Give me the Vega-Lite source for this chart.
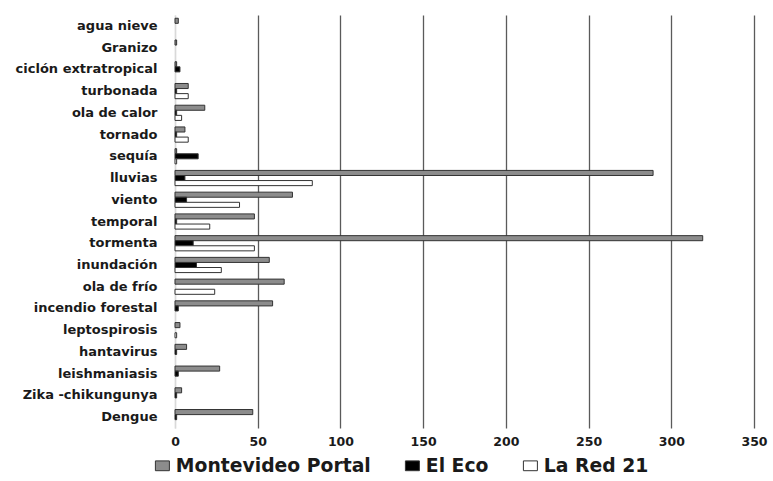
{
  "$schema": "https://vega.github.io/schema/vega-lite/v6.json",
  "autosize": {"type": "none"},
  "width": 579,
  "height": 413,
  "padding": {"left": 175, "top": 15, "right": 19, "bottom": 53},
  "background": "white",
  "config": {"view": {"stroke": null}, "font": "DejaVu Sans"},
  "data": {"values": [
    {"cat": "agua nieve", "medio": "Montevideo Portal", "n": 2},
    {"cat": "agua nieve", "medio": "El Eco", "n": 0},
    {"cat": "agua nieve", "medio": "La Red 21", "n": 0},
    {"cat": "Granizo", "medio": "Montevideo Portal", "n": 1},
    {"cat": "Granizo", "medio": "El Eco", "n": 0},
    {"cat": "Granizo", "medio": "La Red 21", "n": 0},
    {"cat": "ciclón extratropical", "medio": "Montevideo Portal", "n": 1},
    {"cat": "ciclón extratropical", "medio": "El Eco", "n": 3},
    {"cat": "ciclón extratropical", "medio": "La Red 21", "n": 0},
    {"cat": "turbonada", "medio": "Montevideo Portal", "n": 8},
    {"cat": "turbonada", "medio": "El Eco", "n": 1},
    {"cat": "turbonada", "medio": "La Red 21", "n": 8},
    {"cat": "ola de calor", "medio": "Montevideo Portal", "n": 18},
    {"cat": "ola de calor", "medio": "El Eco", "n": 1},
    {"cat": "ola de calor", "medio": "La Red 21", "n": 4},
    {"cat": "tornado", "medio": "Montevideo Portal", "n": 6},
    {"cat": "tornado", "medio": "El Eco", "n": 1},
    {"cat": "tornado", "medio": "La Red 21", "n": 8},
    {"cat": "sequía", "medio": "Montevideo Portal", "n": 1},
    {"cat": "sequía", "medio": "El Eco", "n": 14},
    {"cat": "sequía", "medio": "La Red 21", "n": 1},
    {"cat": "lluvias", "medio": "Montevideo Portal", "n": 289},
    {"cat": "lluvias", "medio": "El Eco", "n": 6},
    {"cat": "lluvias", "medio": "La Red 21", "n": 83},
    {"cat": "viento", "medio": "Montevideo Portal", "n": 71},
    {"cat": "viento", "medio": "El Eco", "n": 7},
    {"cat": "viento", "medio": "La Red 21", "n": 39},
    {"cat": "temporal", "medio": "Montevideo Portal", "n": 48},
    {"cat": "temporal", "medio": "El Eco", "n": 1},
    {"cat": "temporal", "medio": "La Red 21", "n": 21},
    {"cat": "tormenta", "medio": "Montevideo Portal", "n": 319},
    {"cat": "tormenta", "medio": "El Eco", "n": 11},
    {"cat": "tormenta", "medio": "La Red 21", "n": 48},
    {"cat": "inundación", "medio": "Montevideo Portal", "n": 57},
    {"cat": "inundación", "medio": "El Eco", "n": 13},
    {"cat": "inundación", "medio": "La Red 21", "n": 28},
    {"cat": "ola de frío", "medio": "Montevideo Portal", "n": 66},
    {"cat": "ola de frío", "medio": "El Eco", "n": 0},
    {"cat": "ola de frío", "medio": "La Red 21", "n": 24},
    {"cat": "incendio forestal", "medio": "Montevideo Portal", "n": 59},
    {"cat": "incendio forestal", "medio": "El Eco", "n": 2},
    {"cat": "incendio forestal", "medio": "La Red 21", "n": 0},
    {"cat": "leptospirosis", "medio": "Montevideo Portal", "n": 3},
    {"cat": "leptospirosis", "medio": "El Eco", "n": 0},
    {"cat": "leptospirosis", "medio": "La Red 21", "n": 1},
    {"cat": "hantavirus", "medio": "Montevideo Portal", "n": 7},
    {"cat": "hantavirus", "medio": "El Eco", "n": 1},
    {"cat": "hantavirus", "medio": "La Red 21", "n": 0},
    {"cat": "leishmaniasis", "medio": "Montevideo Portal", "n": 27},
    {"cat": "leishmaniasis", "medio": "El Eco", "n": 2},
    {"cat": "leishmaniasis", "medio": "La Red 21", "n": 0},
    {"cat": "Zika -chikungunya", "medio": "Montevideo Portal", "n": 4},
    {"cat": "Zika -chikungunya", "medio": "El Eco", "n": 1},
    {"cat": "Zika -chikungunya", "medio": "La Red 21", "n": 0},
    {"cat": "Dengue", "medio": "Montevideo Portal", "n": 47},
    {"cat": "Dengue", "medio": "El Eco", "n": 1},
    {"cat": "Dengue", "medio": "La Red 21", "n": 0}
  ]},
  "mark": {"type": "bar", "stroke": "#333333", "strokeWidth": 1},
  "encoding": {
    "y": {
      "field": "cat", "type": "nominal", "title": null,
      "sort": ["agua nieve", "Granizo", "ciclón extratropical", "turbonada", "ola de calor", "tornado", "sequía", "lluvias", "viento", "temporal", "tormenta", "inundación", "ola de frío", "incendio forestal", "leptospirosis", "hantavirus", "leishmaniasis", "Zika -chikungunya", "Dengue"],
      "scale": {"paddingInner": 0.3, "paddingOuter": 0.15},
      "axis": {
        "domain": true, "domainColor": "#d9d9d9", "domainWidth": 1.5,
        "ticks": false, "labelPadding": 18, "labelLimit": 0,
        "labelFont": "DejaVu Sans", "labelFontWeight": "bold", "labelFontSize": 13, "labelColor": "#1a1a1a"
      }
    },
    "yOffset": {
      "field": "medio", "type": "nominal",
      "sort": ["Montevideo Portal", "El Eco", "La Red 21"]
    },
    "x": {
      "field": "n", "type": "quantitative", "title": null,
      "scale": {"domain": [0, 350], "nice": false},
      "axis": {
        "values": [0, 50, 100, 150, 200, 250, 300, 350],
        "domain": false, "ticks": false, "labelPadding": 7, "labelFlush": false,
        "grid": true,
        "gridColor": {"condition": {"test": "datum.value === 0", "value": "#d9d9d9"}, "value": "#5a5a5a"},
        "gridWidth": 1.3,
        "labelFont": "DejaVu Sans", "labelFontWeight": "bold", "labelFontSize": 12.5, "labelColor": "#1a1a1a"
      }
    },
    "strokeOpacity": {"condition": {"test": "datum.n === 0", "value": 0}, "value": 1},
    "fill": {
      "field": "medio", "type": "nominal",
      "scale": {"domain": ["Montevideo Portal", "El Eco", "La Red 21"], "range": ["#8c8c8c", "#000000", "#ffffff"]},
      "legend": {
        "title": null, "orient": "none", "direction": "horizontal",
        "legendX": -22, "legendY": 441,
        "symbolType": "M-1,-0.7L1,-0.7L1,0.7L-1,0.7Z", "symbolSize": 196, "symbolStrokeColor": "#333333", "symbolStrokeWidth": 1,
        "labelFont": "DejaVu Sans", "labelFontWeight": "bold", "labelFontSize": 18.8, "labelColor": "#1a1a1a",
        "labelLimit": 0, "columnPadding": 32, "symbolOffset": 0, "labelOffset": 4
      }
    }
  }
}
